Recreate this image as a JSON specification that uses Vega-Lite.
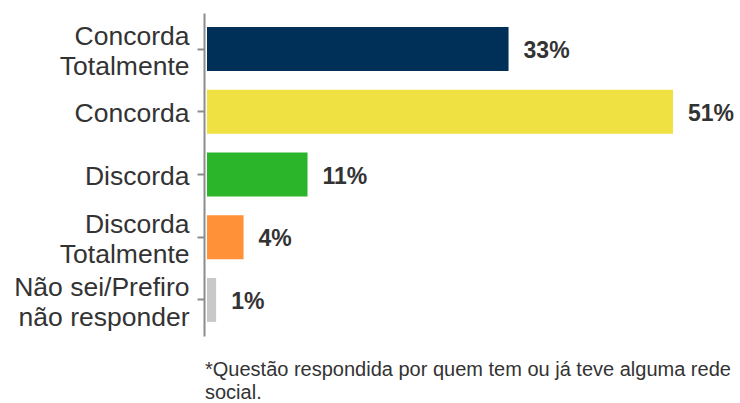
{
  "$schema": "https://vega.github.io/schema/vega-lite/v6.json",
  "autosize": "none",
  "width": 530,
  "height": 323,
  "padding": {"left": 207, "top": 13, "right": 3, "bottom": 67},
  "background": "white",
  "config": {"view": {"stroke": null}, "font": "Liberation Sans"},
  "title": {
    "text": ["*Questão respondida por quem tem ou já teve alguma rede", "social."],
    "orient": "bottom",
    "anchor": "start",
    "frame": "group",
    "font": "Liberation Sans",
    "fontSize": 20,
    "fontWeight": "normal",
    "color": "#333333",
    "lineHeight": 23,
    "offset": 24,
    "dx": -2
  },
  "data": {
    "values": [
      {"resposta": "Concorda|Totalmente", "pct": 33, "label": "33%"},
      {"resposta": "Concorda", "pct": 51, "label": "51%"},
      {"resposta": "Discorda", "pct": 11, "label": "11%"},
      {"resposta": "Discorda|Totalmente", "pct": 4, "label": "4%"},
      {"resposta": "Não sei/Prefiro|não responder", "pct": 1, "label": "1%"}
    ]
  },
  "encoding": {
    "y": {
      "field": "resposta",
      "type": "nominal",
      "sort": null,
      "scale": {"paddingInner": 0.3, "paddingOuter": 0.225},
      "axis": {
        "title": null,
        "labelExpr": "split(datum.value, '|')",
        "labelFontSize": 26.5,
        "labelLineHeight": 30,
        "labelColor": "#333333",
        "labelFont": "Liberation Sans",
        "labelLimit": 300,
        "labelPadding": 8,
        "labelOffset": {"condition": {"test": "indexof(datum.value, '|') >= 0", "value": -12}, "value": 2},
        "domainColor": "#8c8c8c",
        "domainWidth": 2,
        "tickColor": "#8c8c8c",
        "tickWidth": 2,
        "tickSize": 7,
        "offset": 3
      }
    },
    "x": {
      "field": "pct",
      "type": "quantitative",
      "scale": {"domain": [0, 58], "nice": false},
      "axis": null
    }
  },
  "layer": [
    {
      "mark": {"type": "bar"},
      "encoding": {
        "color": {
          "field": "resposta",
          "type": "nominal",
          "sort": null,
          "scale": {
            "domain": ["Concorda|Totalmente", "Concorda", "Discorda", "Discorda|Totalmente", "Não sei/Prefiro|não responder"],
            "range": ["#003057", "#F0E142", "#2AB52A", "#FF9138", "#C8C8C8"]
          },
          "legend": null
        }
      }
    },
    {
      "mark": {"type": "text", "align": "left", "baseline": "middle", "dx": 15, "dy": 2, "fontSize": 23, "fontWeight": "bold", "color": "#333333", "font": "Liberation Sans"},
      "encoding": {"text": {"field": "label"}}
    }
  ]
}
